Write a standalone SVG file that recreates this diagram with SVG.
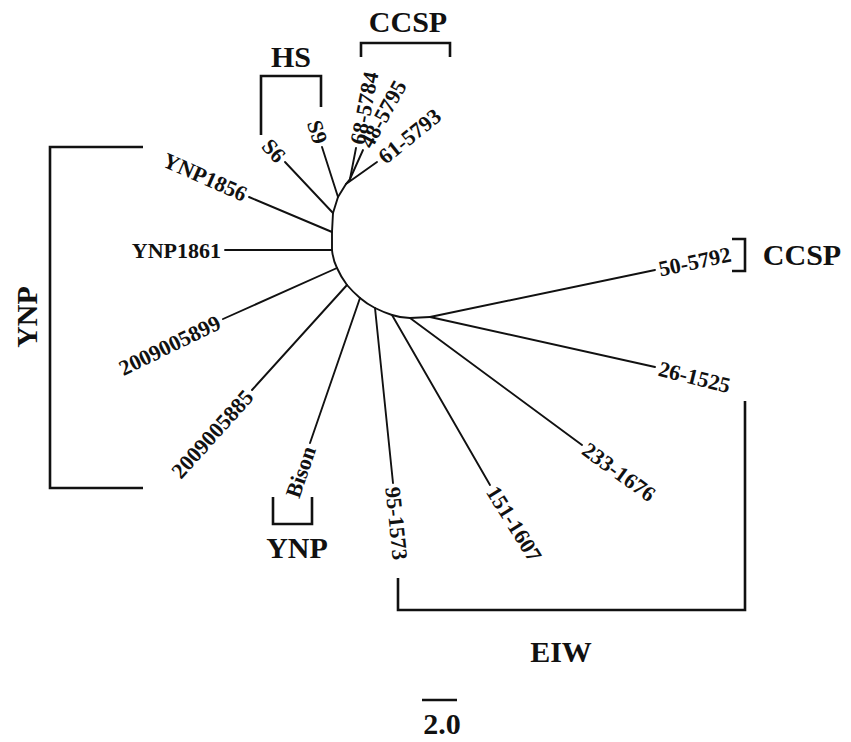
<svg xmlns="http://www.w3.org/2000/svg" width="851" height="742" viewBox="0 0 851 742">
<style>
.br{fill:none;stroke:#111;stroke-width:1.9;stroke-linecap:round;stroke-linejoin:round}
.bk{fill:none;stroke:#111;stroke-width:2.6;stroke-linejoin:miter}
.lb{font-family:"Liberation Serif","Times New Roman",serif;font-weight:bold;font-size:22px;fill:#111}
.gl{font-family:"Liberation Serif","Times New Roman",serif;font-weight:bold;font-size:30px;fill:#111}
</style>
<rect width="851" height="742" fill="#fff"/>
<g id="connectors">
<path class="br" d="M350,179 L346,184 L338,197 L333,213 L332,232 L332,250 Q333,260 337,268 Q341,277 347,285 Q353,292 360,298 Q367,304 375,308 Q383,312 392,315 Q401,318 410,318 L430,317"/>
<line class="br" x1="350" y1="179" x2="356" y2="148"/>
<line class="br" x1="350" y1="179" x2="363" y2="150"/>
<line class="br" x1="346" y1="184" x2="377" y2="162"/>
<line class="br" x1="338" y1="197" x2="322" y2="147"/>
<line class="br" x1="333" y1="213" x2="285" y2="162"/>
<line class="br" x1="332" y1="232" x2="249" y2="197"/>
<line class="br" x1="332" y1="250" x2="225" y2="250"/>
<line class="br" x1="337" y1="268" x2="223" y2="319"/>
<line class="br" x1="347" y1="285" x2="252" y2="390"/>
<line class="br" x1="360" y1="298" x2="310" y2="443"/>
<line class="br" x1="375" y1="308" x2="393" y2="483"/>
<line class="br" x1="392" y1="315" x2="490" y2="485"/>
<line class="br" x1="410" y1="318" x2="582" y2="445"/>
<line class="br" x1="430" y1="317" x2="655" y2="367"/>
<line class="br" x1="430" y1="317" x2="655" y2="270"/>
</g>
<g id="leaf-68-5784"><text class="lb" transform="translate(357,144) rotate(-79)" dy="0.35em">68-5784</text></g>
<g id="leaf-48-5795"><text class="lb" transform="translate(365,146) rotate(-61)" dy="0.35em">48-5795</text></g>
<g id="leaf-61-5793"><text class="lb" transform="translate(381,159) rotate(-39)" dy="0.35em">61-5793</text></g>
<g id="leaf-S9"><text class="lb" transform="translate(321,143) rotate(73)" dy="0.35em" text-anchor="end">S9</text></g>
<g id="leaf-S6"><text class="lb" transform="translate(282,159) rotate(47)" dy="0.35em" text-anchor="end">S6</text></g>
<g id="leaf-YNP1856"><text class="lb" transform="translate(246,195) rotate(24)" dy="0.35em" text-anchor="end">YNP1856</text></g>
<g id="leaf-YNP1861"><text class="lb" transform="translate(221,250)" dy="0.35em" text-anchor="end">YNP1861</text></g>
<g id="leaf-2009005899"><text class="lb" transform="translate(219,321) rotate(-26)" dy="0.35em" text-anchor="end">2009005899</text></g>
<g id="leaf-2009005885"><text class="lb" transform="translate(249,393) rotate(-48)" dy="0.35em" text-anchor="end">2009005885</text></g>
<g id="leaf-Bison"><text class="lb" transform="translate(309,447) rotate(-71)" dy="0.35em" text-anchor="end">Bison</text></g>
<g id="leaf-95-1573"><text class="lb" transform="translate(393,487) rotate(84)" dy="0.35em">95-1573</text></g>
<g id="leaf-151-1607"><text class="lb" transform="translate(492,488) rotate(58)" dy="0.35em">151-1607</text></g>
<g id="leaf-233-1676"><text class="lb" transform="translate(585,447) rotate(36)" dy="0.35em">233-1676</text></g>
<g id="leaf-26-1525"><text class="lb" transform="translate(659,368) rotate(14)" dy="0.35em">26-1525</text></g>
<g id="leaf-50-5792"><text class="lb" transform="translate(659,269) rotate(-12)" dy="0.35em">50-5792</text></g>
<g id="group-HS">
<path class="bk" d="M261,135 V76 H321 V107"/>
<text class="gl" x="291" y="67" text-anchor="middle">HS</text>
</g>
<g id="group-CCSP-top">
<path class="bk" d="M361,57 V43 H450 V57"/>
<text class="gl" x="408" y="32" text-anchor="middle">CCSP</text>
</g>
<g id="group-CCSP-right">
<path class="bk" d="M732,239 H745 V271 H732"/>
<text class="gl" x="802" y="265" text-anchor="middle">CCSP</text>
</g>
<g id="group-YNP-left">
<path class="bk" d="M143,147 H50 V488 H143"/>
<text class="gl" transform="translate(37,317) rotate(-90)" text-anchor="middle">YNP</text>
</g>
<g id="group-YNP-bottom">
<path class="bk" d="M273,497 V524 H312 V497"/>
<text class="gl" x="297" y="558" text-anchor="middle">YNP</text>
</g>
<g id="group-EIW">
<path class="bk" d="M398,578 V610 H745 V401"/>
<text class="gl" x="561" y="662" text-anchor="middle">EIW</text>
</g>
<g id="scale">
<line class="bk" x1="422" y1="700" x2="457" y2="700"/>
<text class="gl" x="442" y="734" text-anchor="middle">2.0</text>
</g>
</svg>
